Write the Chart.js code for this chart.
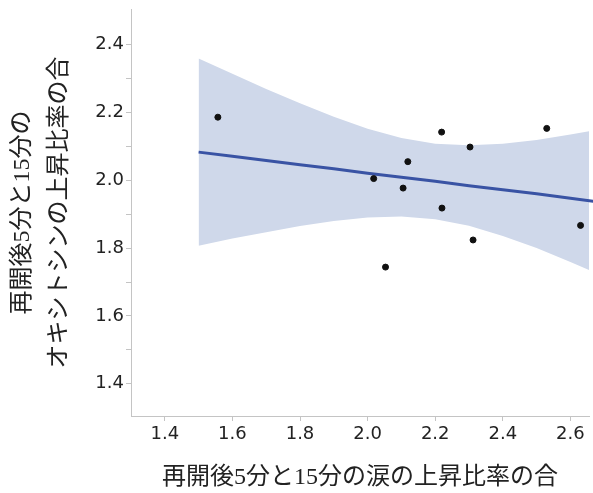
<!DOCTYPE html>
<html>
<head>
<meta charset="utf-8">
<script src="https://cdn.jsdelivr.net/npm/chart.js@4"></script>
<style>
  html, body { margin: 0; padding: 0; background: #fff; }
  #wrap { width: 593px; height: 493px; }
</style>
</head>
<body>
<div id="wrap"><canvas id="myChart"></canvas></div>
<script>
// 観測点
var pointX = [1.557, 2.018, 2.053, 2.219, 2.530, 2.303, 2.119, 2.105, 2.220, 2.630, 2.312];
var pointY = [2.186, 2.005, 1.744, 2.142, 2.153, 2.098, 2.055, 1.977, 1.918, 1.867, 1.824];

// 回帰直線と信頼区間
var fitX  = [1.5, 1.6, 1.7, 1.8, 1.9, 2.0, 2.1, 2.2, 2.3, 2.4, 2.5, 2.6, 2.67];
var fitY  = [2.083, 2.071, 2.058, 2.046, 2.034, 2.021, 2.009, 1.997, 1.984, 1.972, 1.960, 1.947, 1.938];
var upper = [2.359, 2.314, 2.269, 2.227, 2.187, 2.152, 2.125, 2.108, 2.103, 2.108, 2.119, 2.135, 2.147];
var lower = [1.807, 1.828, 1.847, 1.865, 1.880, 1.890, 1.893, 1.885, 1.866, 1.836, 1.800, 1.759, 1.729];

var xTicks = [1.4, 1.6, 1.8, 2.0, 2.2, 2.4, 2.6];
var yTicks = [1.4, 1.5, 1.6, 1.7, 1.8, 1.9, 2.0, 2.1, 2.2, 2.3, 2.4];
var yLabels = ['1.4', '', '1.6', '', '1.8', '', '2.0', '', '2.2', '', '2.4'];

var xTitle = '再開後5分と15分の涙の上昇比率の合';
var yTitle = ['再開後5分と15分の', 'オキシトシンの上昇比率の合'];

function pairs(xs, ys) {
    return xs.map(function (x, i) { return { x: x, y: ys[i] }; });
}

var axisGrey = '#c4c4c4';
var titleFont = "'Liberation Serif', 'Noto Sans CJK JP', serif";

var ctx = document.getElementById('myChart').getContext('2d');
var myChart = new Chart(ctx, {
    type: 'scatter',
    data: {
        datasets: [{
            // 観測点 (いちばん上に描く)
            data: pairs(pointX, pointY),
            backgroundColor: '#111',
            borderColor: '#111',
            pointRadius: 3,
            pointHoverRadius: 3,
            clip: false
        }, {
            // 回帰直線
            data: pairs(fitX, fitY),
            showLine: true,
            borderColor: '#3953a4',
            borderWidth: 3,
            pointRadius: 0,
            clip: false
        }, {
            data: pairs(fitX, lower),
            showLine: true,
            borderWidth: 0,
            borderColor: 'rgba(0,0,0,0)',
            pointRadius: 0,
            fill: false,
            clip: false
        }, {
            data: pairs(fitX, upper),
            showLine: true,
            borderWidth: 0,
            borderColor: 'rgba(0,0,0,0)',
            backgroundColor: '#cfd8ea',
            pointRadius: 0,
            fill: '-1',
            clip: false
        }]
    },
    options: {
        responsive: true,
        maintainAspectRatio: false,
        animation: false,
        layout: { padding: { left: 4, top: 9, right: 0, bottom: 0 } },
        plugins: {
            legend: { display: false },
            tooltip: { enabled: false },
            filler: { drawTime: 'beforeDatasetsDraw' }
        },
        scales: {
            x: {
                type: 'linear',
                min: 1.3,
                max: 2.655,
                afterBuildTicks: function (axis) {
                    axis.ticks = xTicks.map(function (v) { return { value: v }; });
                },
                afterFit: function (axis) {
                    axis.height = 77;
                    axis.paddingLeft = 0;
                    axis.paddingRight = 0;
                },
                ticks: {
                    color: '#222',
                    font: { family: 'DejaVu Sans', size: 18 },
                    padding: 3,
                    maxRotation: 0,
                    callback: function (v) { return v.toFixed(1); }
                },
                grid: { drawOnChartArea: false, tickLength: 5, tickColor: axisGrey },
                border: { color: axisGrey, width: 1 },
                title: {
                    display: true,
                    text: xTitle,
                    color: '#222',
                    font: { family: titleFont, size: 24, lineHeight: 1.2 },
                    padding: { top: 13, bottom: 1 }
                }
            },
            y: {
                type: 'linear',
                min: 1.305,
                max: 2.505,
                afterBuildTicks: function (axis) {
                    axis.ticks = yTicks.map(function (v) { return { value: v }; });
                },
                afterFit: function (axis) {
                    axis.width = 127;
                    axis.paddingTop = 0;
                    axis.paddingBottom = 0;
                },
                ticks: {
                    color: '#222',
                    font: { family: 'DejaVu Sans', size: 18 },
                    padding: 2,
                    autoSkip: false,
                    callback: function (v, i) { return yLabels[i]; }
                },
                grid: { drawOnChartArea: false, tickLength: 5, tickColor: axisGrey },
                border: { color: axisGrey, width: 1 },
                title: {
                    display: true,
                    text: yTitle,
                    color: '#222',
                    font: { family: titleFont, size: 24, lineHeight: 1.55 },
                    padding: { top: 0, bottom: 14 }
                }
            }
        }
    }
});
</script>
</body>
</html>
